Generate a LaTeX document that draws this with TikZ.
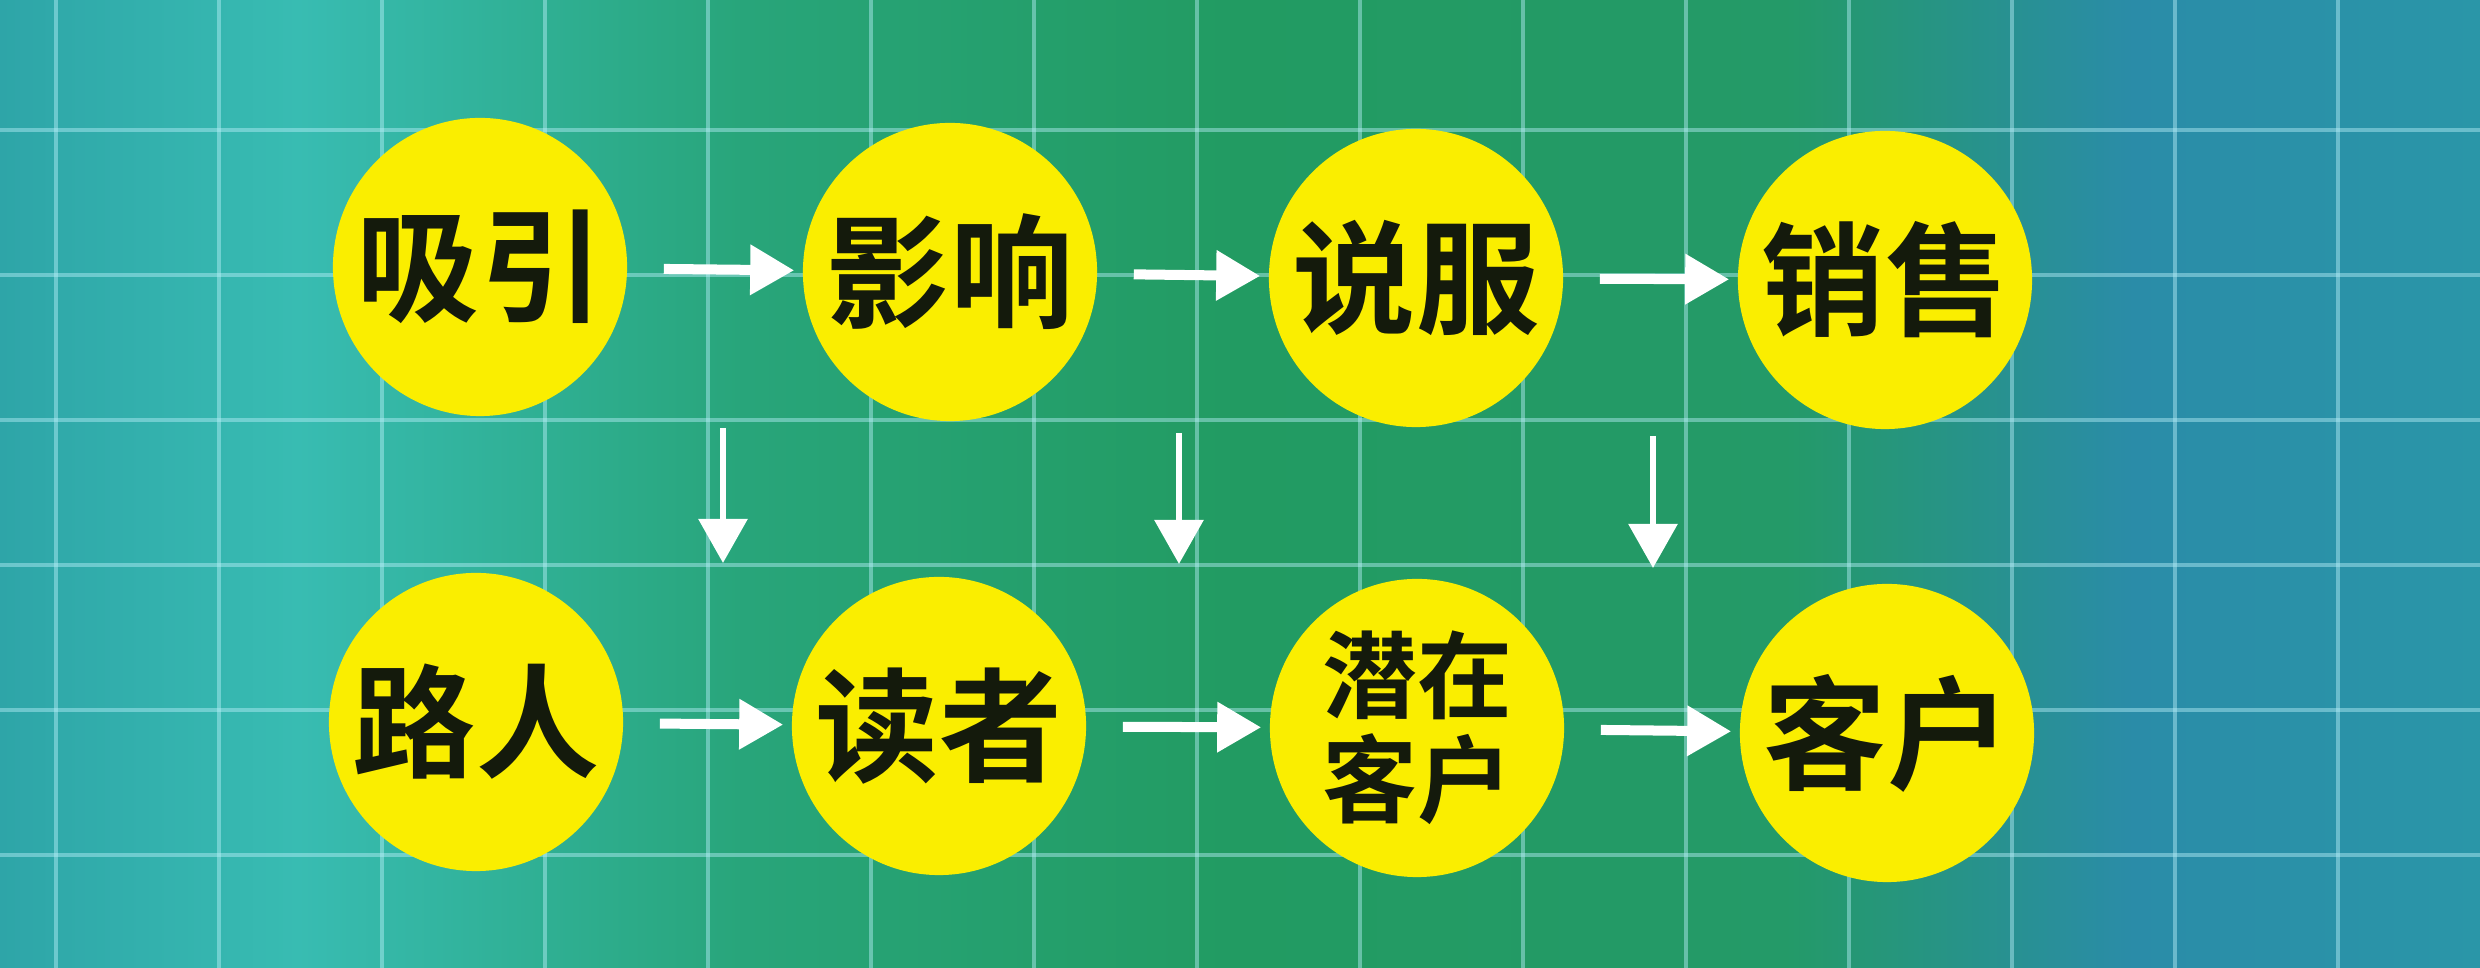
\documentclass[tikz,border=0pt]{standalone}
\usepackage{fontspec}
\newfontfamily\cjk{Noto Sans CJK SC}[BoldFont={Noto Sans CJK SC Bold}]
\usetikzlibrary{arrows.meta,shapes.geometric}
\definecolor{ylw}{RGB}{250,238,0}
\definecolor{txt}{RGB}{20,26,12}
\definecolor{gridc}{RGB}{185,240,250}
\definecolor{bgA}{RGB}{46,165,168}
\definecolor{bgB}{RGB}{56,188,178}
\definecolor{bgC}{RGB}{40,165,122}
\definecolor{bgD}{RGB}{34,155,98}
\definecolor{bgE}{RGB}{36,154,104}
\definecolor{bgF}{RGB}{42,140,168}
\definecolor{bgG}{RGB}{42,150,168}
\pgfdeclarehorizontalshading{bgshade}{100bp}{color(0bp)=(bgA); color(25bp)=(bgA); color(31bp)=(bgB); color(40bp)=(bgC); color(50bp)=(bgD); color(61bp)=(bgE); color(68bp)=(bgF); color(75bp)=(bgG); color(100bp)=(bgG)}
\begin{document}
\begin{tikzpicture}[x=0.01cm,y=-0.01cm,
  bub/.style={ellipse, fill=ylw, minimum width=2.94cm, minimum height=2.98cm, inner sep=0pt},
  lbl/.style={inner sep=0pt, text=txt, align=center, font=\cjk\bfseries\fontsize{35}{38}\selectfont},
  lblsmall/.style={lbl, font=\cjk\bfseries\fontsize{27}{29.6}\selectfont},
  harr/.style={white, line width=0.1cm, -{Triangle[length=0.44cm,width=0.48cm]}, shorten <=0.36cm, shorten >=0.08cm},
  varr/.style={white, line width=0.06cm, -{Triangle[length=0.44cm,width=0.48cm]}},
  gridln/.style={gridc, line width=0.035cm, opacity=0.45}]
\useasboundingbox (0,0) rectangle (2480,968);
\shade[shading=bgshade] (0,0) rectangle (2480,968);
\foreach \k in {0,...,14} \draw[gridln] ({56+163*\k},0) -- ++(0,968);
\foreach \k in {0,...,5} \draw[gridln] (0,{130+145*\k}) -- ++(2480,0);
% top row
\node[bub] (a1) at (480,267) {};
\node[bub] (a2) at (950,272) {};
\node[bub] (a3) at (1416,278) {};
\node[bub] (a4) at (1885,280) {};
\node[lbl] (a1t) at (a1) {吸引};
\node[lbl] (a2t) at (a2) {影响};
\node[lbl] (a3t) at (a3) {说服};
\node[lbl] (a4t) at (a4) {销售};
% bottom row
\node[bub] (b1) at (476,722) {};
\node[bub] (b2) at (939,726) {};
\node[bub] (b3) at (1417,728) {};
\node[bub] (b4) at (1887,733) {};
\node[lbl] (b1t) at (b1) {路人};
\node[lbl] (b2t) at (b2) {读者};
\node[lblsmall] (b3t) at (b3) {潜在\\客户};
\node[lbl] (b4t) at (b4) {客户};
% horizontal arrows
\draw[harr] (a1) -- (a2);
\draw[harr] (a2) -- (a3);
\draw[harr] (a3) -- (a4);
\draw[harr] (b1) -- (b2);
\draw[harr] (b2) -- (b3);
\draw[harr] (b3) -- (b4);
% vertical arrows
\coordinate (v1s) at (723,428); \coordinate (v1e) at (723,563);
\coordinate (v2s) at (1179,433); \coordinate (v2e) at (1179,564);
\coordinate (v3s) at (1653,436); \coordinate (v3e) at (1653,568);
\draw[varr] (v1s) -- (v1e);
\draw[varr] (v2s) -- (v2e);
\draw[varr] (v3s) -- (v3e);
\end{tikzpicture}
\end{document}
